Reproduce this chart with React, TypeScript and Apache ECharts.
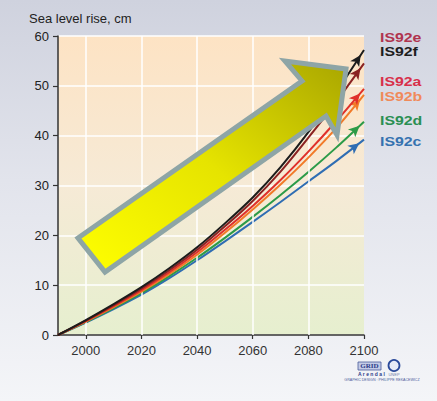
import React, { useEffect, useRef } from "react";
import * as echarts from "echarts";

const years = [1990, 2000, 2010, 2020, 2030, 2040, 2050, 2060, 2070, 2080, 2090, 2100];
const is92c = [0, 2.5, 5.2, 8.1, 11.4, 15.0, 18.8, 22.7, 26.7, 30.8, 34.9, 39.2];
const is92d = [0, 2.6, 5.4, 8.4, 11.8, 15.5, 19.5, 23.7, 28.1, 32.7, 37.6, 42.8];
const is92b = [0, 2.7, 5.6, 8.7, 12.2, 16.1, 20.5, 25.2, 30.2, 35.6, 41.5, 48.2];
const is92a = [0, 2.8, 5.8, 9.0, 12.6, 16.6, 21.1, 25.9, 31.1, 36.8, 42.9, 49.4];
const is92e = [0, 2.9, 6.0, 9.3, 13.0, 17.1, 21.8, 26.9, 32.8, 39.6, 46.8, 54.5];
const is92f = [0, 3.0, 6.2, 9.6, 13.4, 17.6, 22.4, 27.6, 33.7, 40.7, 48.7, 57.2];
const xTickValues = [2000, 2020, 2040, 2060, 2080, 2100];
const xGridYears = [2000, 2020, 2040, 2060, 2080];
const legendNames = ["IS92e", "IS92f", "IS92a", "IS92b", "IS92d", "IS92c"];
const legendColors = ["#b0344e", "#1e1e1e", "#d8304a", "#f08a5a", "#2a8f52", "#3572b0"];

const FONT = '"Liberation Sans", Arial, Helvetica, sans-serif';

const seriesDefs = [
  { name: "IS92c", data: is92c, color: "#2f6db3" },
  { name: "IS92d", data: is92d, color: "#2c9b48" },
  { name: "IS92b", data: is92b, color: "#f27a28" },
  { name: "IS92a", data: is92a, color: "#e0302a" },
  { name: "IS92e", data: is92e, color: "#8a2222" },
  { name: "IS92f", data: is92f, color: "#1c1c1c" },
];

export default function App() {
  const ref = useRef<HTMLDivElement>(null);
  useEffect(() => {
    document.body.style.margin = "0";
    const chart = echarts.init(ref.current!, null, { renderer: "svg" });

    const legendY = [37.5, 52, 81.5, 97, 121, 141.5];

    const build = (arrows: any[] | null) => ({
      animation: false,
      backgroundColor: "transparent",
      grid: {
        left: 58,
        right: 73,
        top: 36,
        bottom: 66,
        show: true,
        borderWidth: 0,
        backgroundColor: {
          type: "linear",
          x: 0,
          y: 0,
          x2: 0,
          y2: 1,
          colorStops: [
            { offset: 0, color: "#fde3c4" },
            { offset: 0.5, color: "#f6ead6" },
            { offset: 1, color: "#e6efcf" },
          ],
        },
      },
      xAxis: {
        type: "value",
        min: 1990,
        max: 2100,
        axisLine: { show: true, lineStyle: { color: "#333", width: 1.5 } },
        axisTick: { show: true, length: 4, customValues: xTickValues, lineStyle: { color: "#333", width: 1.2 } },
        axisLabel: {
          customValues: xTickValues,
          formatter: (v: number) => String(v),
          color: "#333",
          fontSize: 13,
          fontFamily: FONT,
          margin: 9,
        },
        splitLine: { show: false },
      },
      yAxis: {
        type: "value",
        min: 0,
        max: 60,
        interval: 10,
        axisLine: { show: true, lineStyle: { color: "#333", width: 1.5 } },
        axisTick: { show: true, length: 5, lineStyle: { color: "#333", width: 1.2 } },
        axisLabel: { color: "#222", fontSize: 13, fontFamily: FONT, margin: 9 },
        splitLine: { show: true, lineStyle: { color: "rgba(255,255,255,0.75)", width: 2 } },
      },
      series: [
        {
          type: "line",
          name: "grid",
          z: 1,
          silent: true,
          symbol: "none",
          lineStyle: { opacity: 0, width: 0 },
          data: [[1990, 0]],
          markLine: {
            silent: true,
            symbol: ["none", "none"],
            label: { show: false },
            lineStyle: { color: "rgba(255,255,255,0.75)", width: 2, type: "solid" },
            data: xGridYears.map((y) => ({ xAxis: y })),
          },
        },
        ...seriesDefs.map((s, i) => ({
          type: "line",
          name: s.name,
          z: 3 + i,
          smooth: 0.3,
          symbol: "none",
          showSymbol: true,
          lineStyle: { color: s.color, width: 2 },
          itemStyle: { color: s.color },
          data: s.data.map((v, k) => {
            if (k === s.data.length - 1 && arrows) {
              return {
                value: [years[k], v],
                symbol: "arrow",
                symbolSize: [8, 11],
                symbolRotate: arrows[i].rot,
                symbolOffset: arrows[i].off,
                itemStyle: { color: s.color },
              };
            }
            return [years[k], v];
          }),
        })),
      ],
      graphic: [
        {
          type: "text",
          x: 29,
          y: 18.5,
          z: 50,
          style: { text: "Sea level rise, cm", fill: "#222", font: `13px ${FONT}`, verticalAlign: "middle" },
        },
        ...legendNames.map((n, i) => ({
          type: "text",
          x: 380,
          y: legendY[i],
          scaleX: 1.22,
          z: 50,
          style: { text: n, fill: legendColors[i], font: `bold 13px ${FONT}`, verticalAlign: "middle" },
        })),
        {
          type: "polygon",
          z: 100,
          shape: {
            points: [
              [78, 238],
              [302, 81],
              [285, 61],
              [346, 69],
              [337, 135],
              [326, 116],
              [105, 272],
            ],
          },
          style: {
            fill: new echarts.graphic.LinearGradient(0, 1, 1, 0, [
              { offset: 0, color: "#ffff00" },
              { offset: 0.5, color: "#e6e400" },
              { offset: 1, color: "#a9a600" },
            ]),
            stroke: "#8ea5a6",
            lineWidth: 5,
            lineJoin: "miter",
          },
        },
        // GRID Arendal / UNEP credit
        {
          type: "rect",
          z: 50,
          shape: { x: 358, y: 362, width: 23, height: 8 },
          style: { fill: "#c3cbe6", stroke: "#4a5a9a", lineWidth: 0.8 },
        },
        {
          type: "text",
          z: 51,
          x: 369.5,
          y: 366,
          style: { text: "GRID", fill: "#2a3a88", font: 'bold 7px "Liberation Serif", serif', align: "center", verticalAlign: "middle" },
        },
        {
          type: "text",
          z: 51,
          x: 358,
          y: 374,
          style: { text: "A r e n d a l", fill: "#2a3a88", font: `bold 5px ${FONT}`, verticalAlign: "middle" },
        },
        {
          type: "circle",
          z: 50,
          shape: { cx: 394, cy: 365.5, r: 5.5 },
          style: { fill: "#e8ecf6", stroke: "#2a4a9a", lineWidth: 1.8 },
        },
        {
          type: "text",
          z: 51,
          x: 394,
          y: 374,
          style: { text: "UNEP", fill: "#7080aa", font: `4px ${FONT}`, align: "center", verticalAlign: "middle" },
        },
        {
          type: "text",
          z: 51,
          x: 382,
          y: 379.5,
          style: {
            text: "GRAPHIC DESIGN : PHILIPPE REKACEWICZ",
            fill: "#4a5a9a",
            font: `3.6px ${FONT}`,
            align: "center",
            verticalAlign: "middle",
          },
        },
      ],
    });

    chart.setOption(build(null));
    const n = years.length;
    const arrows = seriesDefs.map((s) => {
      const p1 = chart.convertToPixel({ gridIndex: 0 }, [years[n - 2], s.data[n - 2]]) as number[];
      const p2 = chart.convertToPixel({ gridIndex: 0 }, [years[n - 1], s.data[n - 1]]) as number[];
      const ang = Math.atan2(p1[1] - p2[1], p2[0] - p1[0]);
      const back = 6;
      return {
        rot: (ang * 180) / Math.PI - 90,
        off: [-Math.cos(ang) * back, Math.sin(ang) * back],
      };
    });
    chart.setOption(build(arrows));
    return () => chart.dispose();
  }, []);

  return (
    <div
      style={{
        width: 437,
        height: 401,
        background: "linear-gradient(to bottom, #cfd2de 0%, #e2e4ec 45%, #f4f5f8 100%)",
      }}
    >
      <div ref={ref} style={{ width: 437, height: 401 }} />
    </div>
  );
}
